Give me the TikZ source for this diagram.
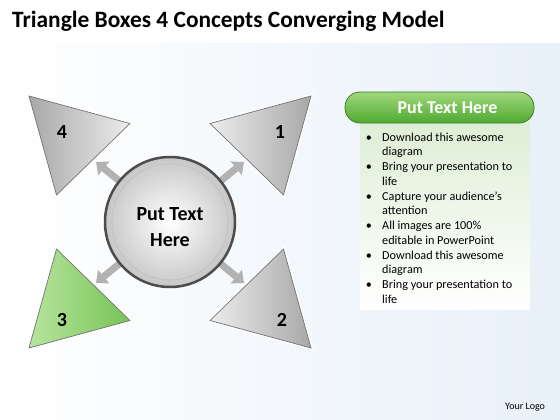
\documentclass[tikz,border=0pt]{standalone}
\usepackage{fontspec}
\setmainfont{Carlito}
\usetikzlibrary{arrows.meta,positioning,backgrounds}

\definecolor{bgblue}{RGB}{232,240,248}
\definecolor{trilight}{RGB}{236,236,236}
\definecolor{tridark}{RGB}{168,168,168}
\definecolor{greenlight}{RGB}{184,228,158}
\definecolor{greendark}{RGB}{118,196,86}
\definecolor{headlight}{RGB}{160,216,124}
\definecolor{headdark}{RGB}{80,168,48}
\definecolor{headline}{RGB}{62,128,40}
\definecolor{bodygreen}{RGB}{222,238,214}

\begin{document}
\begin{tikzpicture}[x=1pt,y=-1pt,
    tri/.style={line width=0.7pt,draw=black!55,preaction={draw=white,line width=3.5pt}},
    num/.style={font=\fontsize{20}{24}\selectfont\bfseries},
    item/.style={font=\fontsize{12.2}{14}\selectfont,inner sep=0pt},
    spoke/.style={line width=7pt,draw=gray!60,-{Triangle[length=10pt,width=17pt]}}]
        \useasboundingbox (0,0) rectangle (560,420);
        
        % the title
        \node[anchor=base west,inner sep=0pt,font=\fontsize{23.4}{28}\selectfont\bfseries] (title) at (12,28)
          {Triangle Boxes 4 Concepts Converging Model};
        
        % the four triangles
        \foreach \n/\sx/\sy/\lx/\ly/\lc/\rc in {1/1/1/110/-90/trilight/tridark,
                                               4/-1/1/-108/-90/tridark/trilight,
                                               2/1/-1/112/98/trilight/tridark,
                                               3/-1/-1/-108/98/greenlight/greendark}
        {
          \shade[tri,left color=\lc,right color=\rc]
            ({170+\sx*141},{222-\sy*126}) -- ({170+\sx*40},{222-\sy*98.5}) -- ({170+\sx*113.5},{222-\sy*27}) -- cycle;
          \node[num] (t\n) at ({170+\lx},{222+\ly}) {\n};
        }
        
        % the hub in the middle
        \node[circle,minimum size=130pt,inner sep=0pt,draw=black!70,line width=2.5pt,
              inner color=white,outer color=black!22] (hub) at (170,222) {};
        \draw[gray!50,line width=0.6pt] (hub.center) circle (58pt);
        \node[align=center,font=\fontsize{20}{26}\selectfont\bfseries] (hubtext) at (170,227.5) {Put Text\\Here};
        
        % arrows from the hub, under it
        \coordinate (a1) at (244,162);
        \coordinate (a4) at (96,162);
        \coordinate (a2) at (244,283);
        \coordinate (a3) at (96,283);
        \begin{pgfonlayer}{background}
          % the pale background
          \fill[white] (0,0) rectangle (560,420);
          \shade[left color=white,right color=bgblue] (0,44) rectangle (560,420);
          \foreach \n in {1,...,4}
            \draw[spoke] (hub.center) -- (a\n);
        \end{pgfonlayer}
        
        % the text panel
        \node[minimum width=170pt,minimum height=186pt,inner sep=0pt,anchor=north,
              top color=bodygreen,bottom color=white] (body) at (445,123) {};
        \node[rounded corners=15pt,minimum width=189pt,minimum height=31pt,
              top color=headlight,bottom color=headdark,draw=headline,line width=0.8pt] (head) at (439.5,107.5) {};
        \node[text=white,font=\fontsize{18}{20}\selectfont\bfseries] (headtext) at (447.5,107.5) {Put Text Here};
        \foreach \i/\t in {1/Download this awesome,2/diagram,3/Bring your presentation to,4/life,
                           5/Capture your audience’s,6/attention,7/All images are 100\%,8/editable in PowerPoint,
                           9/Download this awesome,10/diagram,11/Bring your presentation to,12/life}
          \node[item,anchor=base west] (l\i) at (382,{141+14.75*(\i-1)}) {\t};
        \foreach \i in {1,3,...,11}
          \node[item,anchor=base] (b\i) at (369,{141+14.75*(\i-1)}) {\textbullet};
        
        % the logo text
        \node[anchor=base west,inner sep=0pt,font=\fontsize{10}{12}\selectfont] (logo) at (505,409) {Your Logo};
    \end{tikzpicture}
\end{document}
